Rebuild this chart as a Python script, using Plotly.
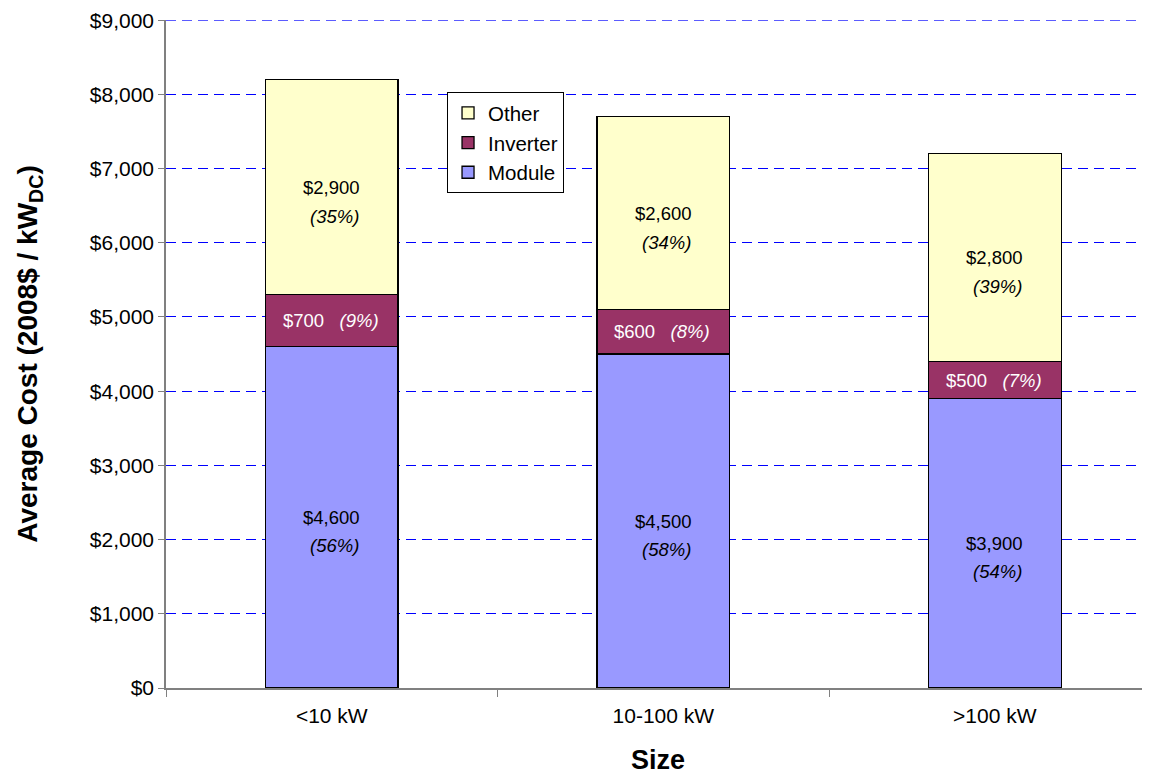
import plotly.graph_objects as go

categories = ["<10 kW", "10-100 kW", ">100 kW"]
module = [4600, 4500, 3900]
inverter = [700, 600, 500]
other = [2900, 2600, 2800]
tick_vals = [0, 1000, 2000, 3000, 4000, 5000, 6000, 7000, 8000, 9000]
tick_text = ["$0", "$1,000", "$2,000", "$3,000", "$4,000", "$5,000", "$6,000", "$7,000", "$8,000", "$9,000"]

FONT = "Liberation Sans, Arial, sans-serif"
line = dict(color="black", width=1.3)

fig = go.Figure()
fig.add_trace(go.Bar(name="Module", x=categories, y=module, marker=dict(color="#9999FF", line=line), width=0.4))
fig.add_trace(go.Bar(name="Inverter", x=categories, y=inverter, marker=dict(color="#993366", line=line), width=0.4))
fig.add_trace(go.Bar(name="Other", x=categories, y=other, marker=dict(color="#FFFFCC", line=line), width=0.4))

AS = 18.5
annotations = []
for c, m, i, o in zip(categories, module, inverter, other):
    tot = m + i + o
    pm, pi, po = round(m / tot * 100), round(i / tot * 100), round(o / tot * 100)
    annotations.append(dict(x=c, y=m / 2, text=f"${m:,}", showarrow=False,
                            font=dict(size=AS, color="black", family=FONT)))
    annotations.append(dict(x=c, y=m / 2, text=f"<i>({pm}%)</i>", showarrow=False, yshift=-28, xshift=3,
                            font=dict(size=AS, color="black", family=FONT)))
    annotations.append(dict(x=c, y=m + i / 2, text=f"${i:,}&nbsp;&nbsp;&nbsp;<i>({pi}%)</i>", showarrow=False, xshift=-1,
                            font=dict(size=AS, color="white", family=FONT)))
    annotations.append(dict(x=c, y=m + i + o / 2, text=f"${o:,}", showarrow=False,
                            font=dict(size=AS, color="black", family=FONT)))
    annotations.append(dict(x=c, y=m + i + o / 2, text=f"<i>({po}%)</i>", showarrow=False, yshift=-29, xshift=3,
                            font=dict(size=AS, color="black", family=FONT)))

# top gridline (plotly hides the one at the range edge)
shapes = [dict(type="line", xref="paper", x0=0, x1=1, yref="y", y0=tick_vals[-1], y1=tick_vals[-1],
               line=dict(color="#0000FF", width=1, dash="10px,6px"), layer="below")]

fig.update_layout(
    barmode="stack",
    width=1142, height=767,
    margin=dict(l=158, r=0, t=12, b=87, autoexpand=False),
    paper_bgcolor="white", plot_bgcolor="white",
    font=dict(family=FONT, color="black", size=21),
    annotations=annotations,
    shapes=shapes,
    showlegend=True,
    legend=dict(x=0.2856, y=0.892, xanchor="left", yanchor="top",
                traceorder="reversed", bgcolor="white", bordercolor="black", borderwidth=1,
                font=dict(size=20.5, family=FONT), itemwidth=30, tracegroupgap=0),
    xaxis=dict(range=[-0.5, 2.468], showline=True, linecolor="#808080", linewidth=1.5,
               ticks="outside", tickson="boundaries", ticklen=7, tickcolor="#808080",
               tickfont=dict(size=21, family=FONT), ticklabelstandoff=8, automargin=False,
               title=dict(text="<b>Size</b>", font=dict(size=27, family=FONT), standoff=29)),
    yaxis=dict(range=[0, 9002], tickvals=tick_vals, ticktext=tick_text, showline=True,
               linecolor="#808080", linewidth=1.5, ticks="outside", ticklen=6, tickcolor="#808080",
               showgrid=True, gridcolor="#0000FF", gridwidth=1, griddash="10px,6px",
               tickfont=dict(size=21, family=FONT), zeroline=False, automargin=False,
               title=dict(text="<b>Average Cost (2008$ / kW<sub>DC</sub>)</b>", font=dict(size=28, family=FONT), standoff=44)),
)

fig.write_html("out.html")
